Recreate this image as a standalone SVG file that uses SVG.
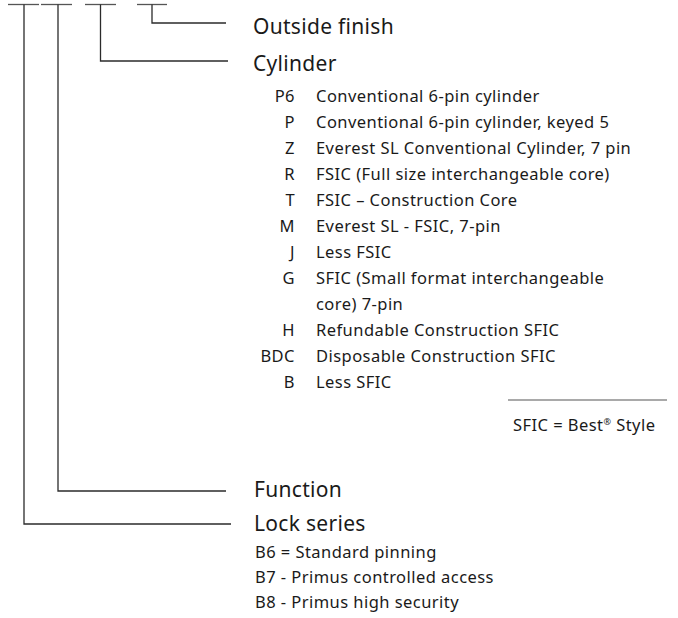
<svg xmlns="http://www.w3.org/2000/svg" width="678" height="618" viewBox="0 0 678 618">
<style>
text{font-family:"Noto Sans","Open Sans","Liberation Sans",sans-serif;fill:#1a1a1a}
.h{font-size:21px;letter-spacing:0.3px}
.i{font-size:16.5px;letter-spacing:0.45px}
.c{text-anchor:end}
.ln{fill:none;stroke:#2b2b2b;stroke-width:1.3}
.bar{fill:none;stroke:#555;stroke-width:1.3}
</style>
<rect width="678" height="618" fill="#fff"/>
<g id="connectors">
<line class="bar" x1="8" y1="4.5" x2="39" y2="4.5"/>
<line class="bar" x1="41" y1="4.5" x2="72" y2="4.5"/>
<line class="bar" x1="85" y1="4.5" x2="116" y2="4.5"/>
<line class="bar" x1="137" y1="4.5" x2="167" y2="4.5"/>
<polyline class="ln" points="24,4.5 24,524 231,524"/>
<polyline class="ln" points="58,4.5 58,491 226,491"/>
<polyline class="ln" points="100.5,4.5 100.5,61 228,61"/>
<polyline class="ln" points="152,4.5 152,23 226,23"/>
</g>
<g id="outside-finish">
<text class="h" x="253" y="34">Outside finish</text>
</g>
<g id="cylinder">
<text class="h" x="253" y="71">Cylinder</text>
<g class="i">
<text class="c" x="295" y="102">P6</text><text x="316" y="102">Conventional 6-pin cylinder</text>
<text class="c" x="295" y="128">P</text><text x="316" y="128">Conventional 6-pin cylinder, keyed 5</text>
<text class="c" x="295" y="154">Z</text><text x="316" y="154">Everest SL Conventional Cylinder, 7 pin</text>
<text class="c" x="295" y="180">R</text><text x="316" y="180">FSIC (Full size interchangeable core)</text>
<text class="c" x="295" y="206">T</text><text x="316" y="206">FSIC – Construction Core</text>
<text class="c" x="295" y="232">M</text><text x="316" y="232">Everest SL - FSIC, 7-pin</text>
<text class="c" x="295" y="258">J</text><text x="316" y="258">Less FSIC</text>
<text class="c" x="295" y="284">G</text><text x="316" y="284">SFIC (Small format interchangeable</text>
<text x="316" y="310">core) 7-pin</text>
<text class="c" x="295" y="336">H</text><text x="316" y="336">Refundable Construction SFIC</text>
<text class="c" x="295" y="362">BDC</text><text x="316" y="362">Disposable Construction SFIC</text>
<text class="c" x="295" y="388">B</text><text x="316" y="388">Less SFIC</text>
</g>
</g>
<g id="note">
<line x1="508" y1="400" x2="667" y2="400" stroke="#555" stroke-width="1.2"/>
<text class="i" x="513" y="431">SFIC = Best<tspan font-size="9" dy="-6">®</tspan><tspan dy="6"> Style</tspan></text>
</g>
<g id="function">
<text class="h" x="254" y="497">Function</text>
</g>
<g id="lock-series">
<text class="h" x="254" y="531">Lock series</text>
<text class="i" x="255" y="558">B6 = Standard pinning</text>
<text class="i" x="255" y="583">B7 - Primus controlled access</text>
<text class="i" x="255" y="608">B8 - Primus high security</text>
</g>
</svg>
